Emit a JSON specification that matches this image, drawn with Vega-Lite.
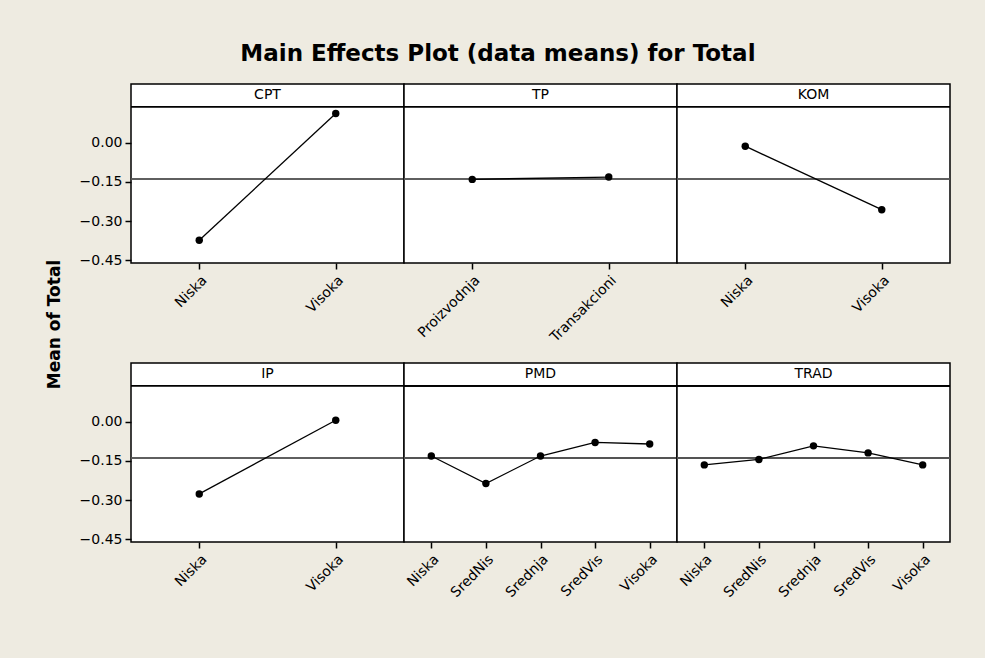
{
  "$schema": "https://vega.github.io/schema/vega-lite/v6.json",
  "autosize": "pad",
  "padding": {"left": 44, "top": 43, "right": 35, "bottom": 59},
  "background": "#EEEBE1",
  "title": {"text": "Main Effects Plot (data means) for Total", "font": "DejaVu Sans", "fontSize": 23, "fontWeight": "bold", "color": "black", "offset": 17, "anchor": "middle"},
  "datasets": {"means": [
    {"factor": "CPT", "level": "Niska", "mean": -0.373},
    {"factor": "CPT", "level": "Visoka", "mean": 0.112},
    {"factor": "TP", "level": "Proizvodnja", "mean": -0.140},
    {"factor": "TP", "level": "Transakcioni", "mean": -0.131},
    {"factor": "KOM", "level": "Niska", "mean": -0.013},
    {"factor": "KOM", "level": "Visoka", "mean": -0.256},
    {"factor": "IP", "level": "Niska", "mean": -0.276},
    {"factor": "IP", "level": "Visoka", "mean": 0.006},
    {"factor": "PMD", "level": "Niska", "mean": -0.131},
    {"factor": "PMD", "level": "SredNis", "mean": -0.236},
    {"factor": "PMD", "level": "Srednja", "mean": -0.131},
    {"factor": "PMD", "level": "SredVis", "mean": -0.079},
    {"factor": "PMD", "level": "Visoka", "mean": -0.085},
    {"factor": "TRAD", "level": "Niska", "mean": -0.165},
    {"factor": "TRAD", "level": "SredNis", "mean": -0.144},
    {"factor": "TRAD", "level": "Srednja", "mean": -0.092},
    {"factor": "TRAD", "level": "SredVis", "mean": -0.119},
    {"factor": "TRAD", "level": "Visoka", "mean": -0.165}
  ]},
  "data": {"name": "means"},
  "columns": 3,
  "spacing": {"row": 100, "column": 0},
  "bounds": "flush",
  "concat": [
    {
      "width": 273, "height": 179,
      "transform": [{"filter": "datum.factor == 'CPT'"}],
      "layer": [
        {"mark": {"type": "rule", "color": "#555555", "strokeWidth": 1.5}, "encoding": {"y": {"datum": -0.139, "type": "quantitative", "scale": {"domain": [-0.46, 0.225], "nice": false, "zero": false}}}},
        {"mark": {"type": "rule", "color": "black", "strokeWidth": 1.5}, "encoding": {"y": {"datum": 0.138, "type": "quantitative", "scale": {"domain": [-0.46, 0.225], "nice": false, "zero": false}}}},
        {"transform": [{"aggregate": [{"op": "count", "as": "n"}], "groupby": ["factor"]}], "mark": {"type": "text", "font": "DejaVu Sans", "fontSize": 14, "color": "black", "baseline": "middle", "align": "center"}, "encoding": {"y": {"datum": 0.181, "type": "quantitative", "scale": {"domain": [-0.46, 0.225], "nice": false, "zero": false}}, "text": {"field": "factor", "type": "nominal"}}},
        {"mark": {"type": "line", "color": "black", "strokeWidth": 1.3, "point": {"filled": true, "size": 55, "color": "black"}},
         "encoding": {
           "x": {"field": "level", "type": "nominal", "sort": ["Niska", "SredNis", "Srednja", "SredVis", "Visoka", "Proizvodnja", "Transakcioni"], "scale": {"type": "point", "padding": 0.5}, "axis": {"title": null, "labelAngle": -45, "labelFont": "DejaVu Sans", "labelFontSize": 14, "labelColor": "black", "tickColor": "black", "tickSize": 6, "tickWidth": 1.5, "domain": false, "grid": false, "labelPadding": 4}},
           "y": {"field": "mean", "type": "quantitative", "scale": {"domain": [-0.46, 0.225], "nice": false, "zero": false}, "axis": {"title": "Mean of Total", "titleY": 240, "values": [0, -0.15, -0.3, -0.45], "format": ".2f", "labelFont": "DejaVu Sans", "labelFontSize": 14, "labelColor": "black", "tickColor": "black", "tickSize": 6, "tickWidth": 1.5, "labelPadding": 3, "domain": false, "grid": false, "titleFont": "DejaVu Sans", "titleFontSize": 17, "titleFontWeight": "bold", "titleColor": "black", "titlePadding": 16}}
         }}
      ]
    },
    {
      "width": 273, "height": 179,
      "transform": [{"filter": "datum.factor == 'TP'"}],
      "layer": [
        {"mark": {"type": "rule", "color": "#555555", "strokeWidth": 1.5}, "encoding": {"y": {"datum": -0.139, "type": "quantitative", "scale": {"domain": [-0.46, 0.225], "nice": false, "zero": false}, "axis": null}}},
        {"mark": {"type": "rule", "color": "black", "strokeWidth": 1.5}, "encoding": {"y": {"datum": 0.138, "type": "quantitative", "scale": {"domain": [-0.46, 0.225], "nice": false, "zero": false}, "axis": null}}},
        {"transform": [{"aggregate": [{"op": "count", "as": "n"}], "groupby": ["factor"]}], "mark": {"type": "text", "font": "DejaVu Sans", "fontSize": 14, "color": "black", "baseline": "middle", "align": "center"}, "encoding": {"y": {"datum": 0.181, "type": "quantitative", "scale": {"domain": [-0.46, 0.225], "nice": false, "zero": false}, "axis": null}, "text": {"field": "factor", "type": "nominal"}}},
        {"mark": {"type": "line", "color": "black", "strokeWidth": 1.3, "point": {"filled": true, "size": 55, "color": "black"}},
         "encoding": {
           "x": {"field": "level", "type": "nominal", "sort": ["Niska", "SredNis", "Srednja", "SredVis", "Visoka", "Proizvodnja", "Transakcioni"], "scale": {"type": "point", "padding": 0.5}, "axis": {"title": null, "labelAngle": -45, "labelFont": "DejaVu Sans", "labelFontSize": 14, "labelColor": "black", "tickColor": "black", "tickSize": 6, "tickWidth": 1.5, "domain": false, "grid": false, "labelPadding": 4}},
           "y": {"field": "mean", "type": "quantitative", "scale": {"domain": [-0.46, 0.225], "nice": false, "zero": false}, "axis": null}
         }}
      ]
    },
    {
      "width": 273, "height": 179,
      "transform": [{"filter": "datum.factor == 'KOM'"}],
      "layer": [
        {"mark": {"type": "rule", "color": "#555555", "strokeWidth": 1.5}, "encoding": {"y": {"datum": -0.139, "type": "quantitative", "scale": {"domain": [-0.46, 0.225], "nice": false, "zero": false}, "axis": null}}},
        {"mark": {"type": "rule", "color": "black", "strokeWidth": 1.5}, "encoding": {"y": {"datum": 0.138, "type": "quantitative", "scale": {"domain": [-0.46, 0.225], "nice": false, "zero": false}, "axis": null}}},
        {"transform": [{"aggregate": [{"op": "count", "as": "n"}], "groupby": ["factor"]}], "mark": {"type": "text", "font": "DejaVu Sans", "fontSize": 14, "color": "black", "baseline": "middle", "align": "center"}, "encoding": {"y": {"datum": 0.181, "type": "quantitative", "scale": {"domain": [-0.46, 0.225], "nice": false, "zero": false}, "axis": null}, "text": {"field": "factor", "type": "nominal"}}},
        {"mark": {"type": "line", "color": "black", "strokeWidth": 1.3, "point": {"filled": true, "size": 55, "color": "black"}},
         "encoding": {
           "x": {"field": "level", "type": "nominal", "sort": ["Niska", "SredNis", "Srednja", "SredVis", "Visoka", "Proizvodnja", "Transakcioni"], "scale": {"type": "point", "padding": 0.5}, "axis": {"title": null, "labelAngle": -45, "labelFont": "DejaVu Sans", "labelFontSize": 14, "labelColor": "black", "tickColor": "black", "tickSize": 6, "tickWidth": 1.5, "domain": false, "grid": false, "labelPadding": 4}},
           "y": {"field": "mean", "type": "quantitative", "scale": {"domain": [-0.46, 0.225], "nice": false, "zero": false}, "axis": null}
         }}
      ]
    },
    {
      "width": 273, "height": 179,
      "transform": [{"filter": "datum.factor == 'IP'"}],
      "layer": [
        {"mark": {"type": "rule", "color": "#555555", "strokeWidth": 1.5}, "encoding": {"y": {"datum": -0.139, "type": "quantitative", "scale": {"domain": [-0.46, 0.225], "nice": false, "zero": false}}}},
        {"mark": {"type": "rule", "color": "black", "strokeWidth": 1.5}, "encoding": {"y": {"datum": 0.138, "type": "quantitative", "scale": {"domain": [-0.46, 0.225], "nice": false, "zero": false}}}},
        {"transform": [{"aggregate": [{"op": "count", "as": "n"}], "groupby": ["factor"]}], "mark": {"type": "text", "font": "DejaVu Sans", "fontSize": 14, "color": "black", "baseline": "middle", "align": "center"}, "encoding": {"y": {"datum": 0.181, "type": "quantitative", "scale": {"domain": [-0.46, 0.225], "nice": false, "zero": false}}, "text": {"field": "factor", "type": "nominal"}}},
        {"mark": {"type": "line", "color": "black", "strokeWidth": 1.3, "point": {"filled": true, "size": 55, "color": "black"}},
         "encoding": {
           "x": {"field": "level", "type": "nominal", "sort": ["Niska", "SredNis", "Srednja", "SredVis", "Visoka", "Proizvodnja", "Transakcioni"], "scale": {"type": "point", "padding": 0.5}, "axis": {"title": null, "labelAngle": -45, "labelFont": "DejaVu Sans", "labelFontSize": 14, "labelColor": "black", "tickColor": "black", "tickSize": 6, "tickWidth": 1.5, "domain": false, "grid": false, "labelPadding": 4}},
           "y": {"field": "mean", "type": "quantitative", "scale": {"domain": [-0.46, 0.225], "nice": false, "zero": false}, "axis": {"title": null, "values": [0, -0.15, -0.3, -0.45], "format": ".2f", "labelFont": "DejaVu Sans", "labelFontSize": 14, "labelColor": "black", "tickColor": "black", "tickSize": 6, "tickWidth": 1.5, "labelPadding": 3, "domain": false, "grid": false}}
         }}
      ]
    },
    {
      "width": 273, "height": 179,
      "transform": [{"filter": "datum.factor == 'PMD'"}],
      "layer": [
        {"mark": {"type": "rule", "color": "#555555", "strokeWidth": 1.5}, "encoding": {"y": {"datum": -0.139, "type": "quantitative", "scale": {"domain": [-0.46, 0.225], "nice": false, "zero": false}, "axis": null}}},
        {"mark": {"type": "rule", "color": "black", "strokeWidth": 1.5}, "encoding": {"y": {"datum": 0.138, "type": "quantitative", "scale": {"domain": [-0.46, 0.225], "nice": false, "zero": false}, "axis": null}}},
        {"transform": [{"aggregate": [{"op": "count", "as": "n"}], "groupby": ["factor"]}], "mark": {"type": "text", "font": "DejaVu Sans", "fontSize": 14, "color": "black", "baseline": "middle", "align": "center"}, "encoding": {"y": {"datum": 0.181, "type": "quantitative", "scale": {"domain": [-0.46, 0.225], "nice": false, "zero": false}, "axis": null}, "text": {"field": "factor", "type": "nominal"}}},
        {"mark": {"type": "line", "color": "black", "strokeWidth": 1.3, "point": {"filled": true, "size": 55, "color": "black"}},
         "encoding": {
           "x": {"field": "level", "type": "nominal", "sort": ["Niska", "SredNis", "Srednja", "SredVis", "Visoka", "Proizvodnja", "Transakcioni"], "scale": {"type": "point", "padding": 0.5}, "axis": {"title": null, "labelAngle": -45, "labelFont": "DejaVu Sans", "labelFontSize": 14, "labelColor": "black", "tickColor": "black", "tickSize": 6, "tickWidth": 1.5, "domain": false, "grid": false, "labelPadding": 4}},
           "y": {"field": "mean", "type": "quantitative", "scale": {"domain": [-0.46, 0.225], "nice": false, "zero": false}, "axis": null}
         }}
      ]
    },
    {
      "width": 273, "height": 179,
      "transform": [{"filter": "datum.factor == 'TRAD'"}],
      "layer": [
        {"mark": {"type": "rule", "color": "#555555", "strokeWidth": 1.5}, "encoding": {"y": {"datum": -0.139, "type": "quantitative", "scale": {"domain": [-0.46, 0.225], "nice": false, "zero": false}, "axis": null}}},
        {"mark": {"type": "rule", "color": "black", "strokeWidth": 1.5}, "encoding": {"y": {"datum": 0.138, "type": "quantitative", "scale": {"domain": [-0.46, 0.225], "nice": false, "zero": false}, "axis": null}}},
        {"transform": [{"aggregate": [{"op": "count", "as": "n"}], "groupby": ["factor"]}], "mark": {"type": "text", "font": "DejaVu Sans", "fontSize": 14, "color": "black", "baseline": "middle", "align": "center"}, "encoding": {"y": {"datum": 0.181, "type": "quantitative", "scale": {"domain": [-0.46, 0.225], "nice": false, "zero": false}, "axis": null}, "text": {"field": "factor", "type": "nominal"}}},
        {"mark": {"type": "line", "color": "black", "strokeWidth": 1.3, "point": {"filled": true, "size": 55, "color": "black"}},
         "encoding": {
           "x": {"field": "level", "type": "nominal", "sort": ["Niska", "SredNis", "Srednja", "SredVis", "Visoka", "Proizvodnja", "Transakcioni"], "scale": {"type": "point", "padding": 0.5}, "axis": {"title": null, "labelAngle": -45, "labelFont": "DejaVu Sans", "labelFontSize": 14, "labelColor": "black", "tickColor": "black", "tickSize": 6, "tickWidth": 1.5, "domain": false, "grid": false, "labelPadding": 4}},
           "y": {"field": "mean", "type": "quantitative", "scale": {"domain": [-0.46, 0.225], "nice": false, "zero": false}, "axis": null}
         }}
      ]
    }
  ],
  "config": {
    "view": {"stroke": "black", "fill": "white", "strokeWidth": 1.5}
  }
}
